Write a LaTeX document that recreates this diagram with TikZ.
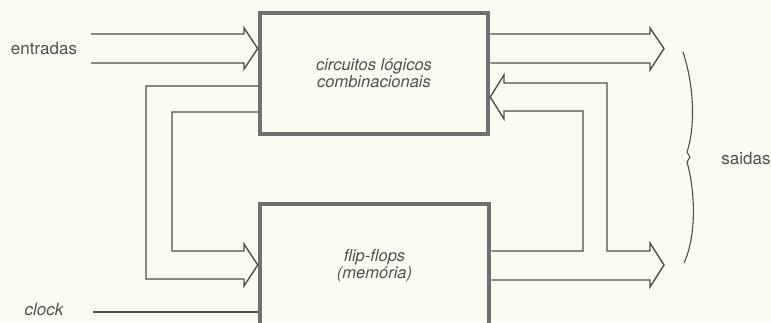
\documentclass[tikz,border=0pt]{standalone}
\usepackage{fontspec}
\setmainfont{TeX Gyre Heros}
\usetikzlibrary{calc}
\definecolor{paper}{RGB}{252,251,242}
\definecolor{ink}{RGB}{78,78,76}
\definecolor{boxc}{RGB}{112,112,110}
\definecolor{txt}{RGB}{80,80,80}
\begin{document}
\begin{tikzpicture}[x=1pt,y=-1pt,
  wire/.style={draw=ink, line width=1.4pt, line join=miter},
  blk/.style={draw=boxc, line width=4.5pt, rectangle, inner sep=0pt,
    font=\fontsize{16.5}{17}\selectfont\itshape, text=txt, align=center},
  lbl/.style={font=\fontsize{17}{20}\selectfont, text=txt, inner sep=0pt},
  bracestyle/.style={draw=ink, line width=1.1pt}]
\fill[paper] (0,0) rectangle (771,322);
\useasboundingbox (0,0) rectangle (771,322);
\clip (0,0) rectangle (771,322);

% blocks
\node[blk, minimum width=228pt, minimum height=121pt] (cl) at (374,73.5) {circuitos lógicos\\combinacionais};
\node[blk, minimum width=229pt, minimum height=124pt] (ff) at (374.5,266) {flip-flops\\(memória)};

% labels
\node[lbl] (ent) at (44,48) {entradas};
\node[lbl, font=\fontsize{17}{20}\selectfont\itshape] (clk) at (44,309) {clock};
\node[lbl] (sai) at (746,158) {saidas};

% level helpers
\coordinate (t48) at (0,48.5);
\coordinate (t97) at (0,97);
\coordinate (t265) at (0,265);
\coordinate (y34) at (0,34);
\coordinate (y63) at (0,63);
\coordinate (y86) at (0,86);
\coordinate (y112) at (0,112);
\coordinate (y251) at (0,251);
\coordinate (y280) at (0,280);
\coordinate (y312) at (0,312);

% free ends
\coordinate (e1) at (91,34);
\coordinate (e2) at (91,63);
\coordinate (ck) at (93,312);
\coordinate (otip) at (664,48.5);
\coordinate (btip) at (664,265);

% inputs to combinational block
\draw[wire] (e1) -- (244,34) -- (244,28) -- (cl.west |- t48) -- (244,69) -- (244,63) -- (e2);

% left feedback to flip-flops
\draw[wire] (cl.west |- y86) -- (146,86) -- (146,279) -- (244,279) -- (244,286)
  -- (ff.west |- t265) -- (244,244) -- (244,251) -- (172,251) -- (172,112) -- (cl.west |- y112);

% clock
\draw[wire] (ck) -- (ff.west |- y312);

% outputs of combinational block
\draw[wire] (cl.east |- y34) -- (650,34) -- (650,28) -- (otip) -- (650,70) -- (650,63) -- (cl.east |- y63);

% right feedback and flip-flop outputs
\draw[wire] (ff.east |- y251) -- (583,251) -- (583,111) -- (504,111) -- (504,119)
  -- (cl.east |- t97) -- (504,75) -- (504,83) -- (607,83) -- (607,251) -- (650,251)
  -- (650,243) -- (btip) -- (650,287) -- (650,280) -- (ff.east |- y280);

% brace
\draw[bracestyle] (683,52) .. controls (696,92) and (694,132) .. (687,152) -- (690,157) -- (687,162)
  .. controls (695,190) and (697,235) .. (684,263);
\end{tikzpicture}
\end{document}
